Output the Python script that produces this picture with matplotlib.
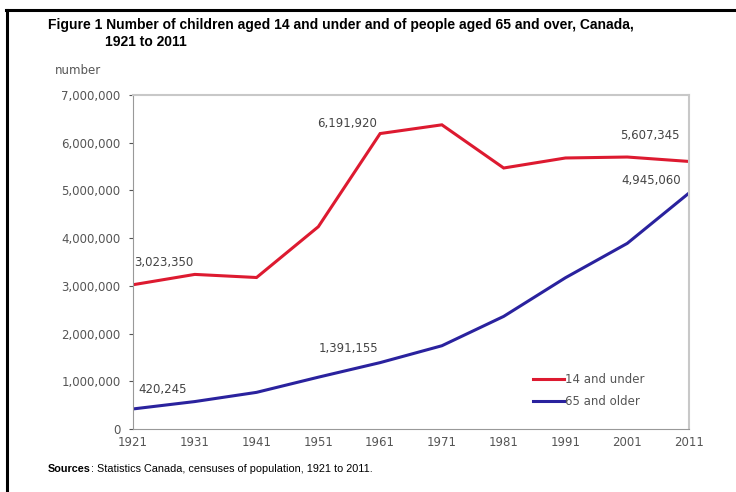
import matplotlib.pyplot as plt
from matplotlib.lines import Line2D

# census years and counts
years = [1921, 1931, 1941, 1951, 1961, 1971, 1981, 1991, 2001, 2011]
under_15 = [3023350, 3240000, 3175000, 4240000, 6191920, 6375000, 5470000, 5680000, 5700000, 5607345]
over_65 = [420245, 575000, 768000, 1086000, 1391155, 1745000, 2360000, 3170000, 3890000, 4945060]
yticks = [0, 1000000, 2000000, 3000000, 4000000, 5000000, 6000000, 7000000]
xticks = years

red = '#dd1a30'
blue = '#2a229e'
grey = '#555555'
chart_font = ['DejaVu Sans']
head_font = ['Liberation Sans', 'DejaVu Sans']

plt.rcParams['font.family'] = chart_font

fig = plt.figure(figsize=(7.36, 4.92), dpi=100)
ax = fig.add_axes([133 / 736, 1 - 429 / 492, 556 / 736, 334 / 492])

ax.plot(years, under_15, color=red, lw=2.2, solid_joinstyle='miter')
ax.plot(years, over_65, color=blue, lw=2.2, solid_joinstyle='miter')

ax.set_xlim(1921, 2011)
ax.set_ylim(0, 7000000)
ax.set_xticks(xticks)
ax.set_yticks(yticks)
ax.set_yticklabels([f'{v:,}' for v in yticks])
ax.tick_params(colors=grey, labelsize=8.5, length=3, width=0.8)
ax.tick_params(axis='x', length=0, pad=5)
ax.tick_params(axis='y', pad=6)
for s in ['left', 'bottom']:
    ax.spines[s].set_color('#999999')
for s in ['top', 'right']:
    ax.spines[s].set_color('#c8c8c8')
    ax.spines[s].set_linewidth(1.5)

# value labels
lab = dict(fontsize=8.5, color='#444444', textcoords='offset points')
ax.annotate('3,023,350', (years[0], under_15[0]), xytext=(1, 16), ha='left', va='center', **lab)
ax.annotate('6,191,920', (years[4], under_15[4]), xytext=(-24, 7), ha='center', va='center', **lab)
ax.annotate('5,607,345', (years[9], under_15[9]), xytext=(-7, 19), ha='right', va='center', **lab)
ax.annotate('4,945,060', (years[9], over_65[9]), xytext=(-6, 9), ha='right', va='center', **lab)
ax.annotate('1,391,155', (years[4], over_65[4]), xytext=(-23, 10), ha='center', va='center', **lab)
ax.annotate('420,245', (years[0], over_65[0]), xytext=(4, 14), ha='left', va='center', **lab)

handles = [Line2D([], [], color=red, lw=2.2), Line2D([], [], color=blue, lw=2.2)]
ax.legend(handles, ['14 and under', '65 and older'], loc='upper left',
          bbox_to_anchor=(394 / 556, 62 / 334), frameon=False, fontsize=8.5,
          handlelength=2.6, handletextpad=0.1, labelspacing=0.75,
          labelcolor=grey, borderpad=0)

fig.text(55 / 736, 1 - 71 / 492, 'number', fontsize=8.5, color=grey, va='center')

fig.text(48 / 736, 1 - 25 / 492, 'Figure 1 Number of children aged 14 and under and of people aged 65 and over, Canada,',
         fontsize=10, fontweight='bold', va='center', family=head_font)
fig.text(105 / 736, 1 - 42 / 492, '1921 to 2011', fontsize=10, fontweight='bold', va='center', family=head_font)

# source line: bold word followed by plain text
src = fig.text(48 / 736, 1 - 469 / 492, 'Sources', fontsize=7.8, fontweight='bold', va='center', family=head_font)
fig.add_artist(plt.Annotation(': Statistics Canada, censuses of population, 1921 to 2011.', xy=(1, 0.5),
                              xycoords=src, va='center', fontsize=7.8, family=head_font))

# frame around the figure (left and top edges visible)
fig.add_artist(Line2D([7 / 736, 7 / 736], [0, 1 - 10 / 492], color='black', lw=2.2, transform=fig.transFigure))
fig.add_artist(Line2D([6 / 736, 1], [1 - 10 / 492, 1 - 10 / 492], color='black', lw=2.2, transform=fig.transFigure))

fig.savefig('out.png', dpi=100)
